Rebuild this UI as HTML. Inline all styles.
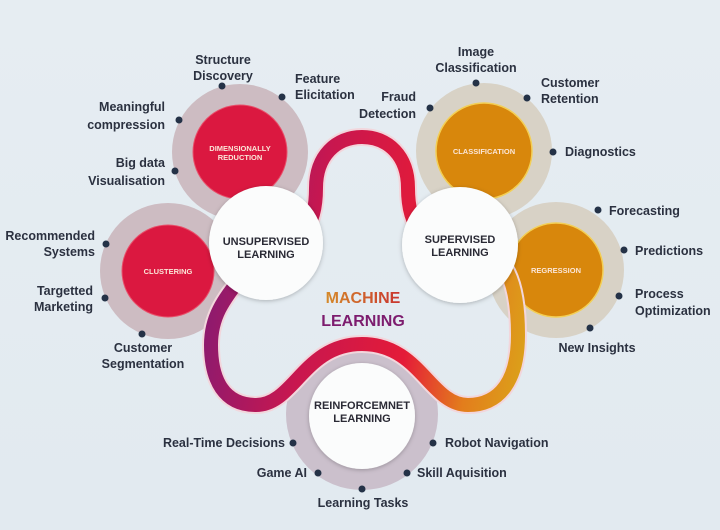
<!DOCTYPE html>
<html><head><meta charset="utf-8"><style>
html,body{margin:0;padding:0;background:#e4ecf1;}
svg{display:block;}
.l{font-family:"Liberation Sans",sans-serif;font-size:12.5px;font-weight:bold;fill:#2b3140;}
.w{font-family:"Liberation Sans",sans-serif;font-size:11px;font-weight:bold;fill:#2a2a35;text-anchor:middle;}
.i{font-family:"Liberation Sans",sans-serif;font-size:7.5px;font-weight:bold;fill:#fbe6d8;text-anchor:middle;}
</style></head><body>
<svg width="720" height="530" viewBox="0 0 720 530" xmlns="http://www.w3.org/2000/svg">
<defs>
<linearGradient id="bg" x1="0" y1="0" x2="0" y2="1"><stop offset="0" stop-color="#e6edf2"/><stop offset="1" stop-color="#e2eaf0"/></linearGradient>
<linearGradient id="tube" gradientUnits="userSpaceOnUse" x1="205" y1="330" x2="525" y2="380">
<stop offset="0" stop-color="#8e1a6e"/><stop offset="0.3" stop-color="#c8174f"/><stop offset="0.62" stop-color="#e41b38"/><stop offset="0.82" stop-color="#e37d1c"/><stop offset="1" stop-color="#dba21a"/></linearGradient>
<linearGradient id="mach" x1="0" y1="0" x2="1" y2="0"><stop offset="0" stop-color="#d58a2a"/><stop offset="1" stop-color="#c9342f"/></linearGradient>
<filter id="sh" x="-20%" y="-20%" width="140%" height="140%"><feDropShadow dx="0" dy="1" stdDeviation="2" flood-color="#000" flood-opacity="0.25"/></filter>
</defs>
<rect width="720" height="530" fill="url(#bg)"/>
<circle cx="240" cy="152" r="68" fill="#cdbcc2"/>
<circle cx="168" cy="271" r="68" fill="#cdbcc2"/>
<circle cx="484" cy="151" r="68" fill="#d8d2c6"/>
<circle cx="556" cy="270" r="68" fill="#d8d2c6"/>
<circle cx="362" cy="414" r="76" fill="#cbc0cc"/>
<circle cx="240" cy="152" r="47" fill="#db1840" stroke="#e8506a" stroke-width="1"/>
<circle cx="168" cy="271" r="46" fill="#db1840" stroke="#e8506a" stroke-width="1"/>
<circle cx="484" cy="151" r="48" fill="#d8870c" stroke="#f3cf55" stroke-width="1.5"/>
<circle cx="556" cy="270" r="47" fill="#d8870c" stroke="#f3cf55" stroke-width="1.5"/>
<path id="p" d="M266,243 C302,243 316,228 316,188 C316,156 336,137 362,137 C388,137 408,156 408,188 C408,228 424,245 460,245 C510,245 518,290 518,335 C518,380 500,405 468,405 C430,405 420,344 362,344 C304,344 294,405 256,405 C224,405 211,380 211,345 C211,305 235,290 266,243 Z" fill="none" stroke="#f2d6dc" stroke-width="18"/>
<path d="M266,243 C302,243 316,228 316,188 C316,156 336,137 362,137 C388,137 408,156 408,188 C408,228 424,245 460,245 C510,245 518,290 518,335 C518,380 500,405 468,405 C430,405 420,344 362,344 C304,344 294,405 256,405 C224,405 211,380 211,345 C211,305 235,290 266,243 Z" fill="none" stroke="url(#tube)" stroke-width="14"/>
<circle cx="266" cy="243" r="57" fill="#fbfcfc" filter="url(#sh)"/>
<circle cx="460" cy="245" r="58" fill="#fbfcfc" filter="url(#sh)"/>
<circle cx="362" cy="416" r="53" fill="#fbfcfc" filter="url(#sh)"/>
<text class="w" x="266" y="245">UNSUPERVISED</text><text class="w" x="266" y="258">LEARNING</text>
<text class="w" x="460" y="243">SUPERVISED</text><text class="w" x="460" y="256">LEARNING</text>
<text class="w" x="362" y="409">REINFORCEMNET</text><text class="w" x="362" y="422">LEARNING</text>
<text class="i" x="240" y="151">DIMENSIONALLY</text><text class="i" x="240" y="160">REDUCTION</text>
<text class="i" x="168" y="274">CLUSTERING</text>
<text class="i" x="484" y="154" fill="#fbe7b0">CLASSIFICATION</text>
<text class="i" x="556" y="273" fill="#fbe7b0">REGRESSION</text>
<text x="363" y="303" text-anchor="middle" font-family="Liberation Sans,sans-serif" font-weight="bold" font-size="16" fill="url(#mach)">MACHINE</text>
<text x="363" y="326" text-anchor="middle" font-family="Liberation Sans,sans-serif" font-weight="bold" font-size="16" fill="#7d1c6e">LEARNING</text>
<g fill="#243247">
<circle cx="222" cy="86" r="3.5"/><circle cx="282" cy="97" r="3.5"/><circle cx="179" cy="120" r="3.5"/><circle cx="175" cy="171" r="3.5"/>
<circle cx="106" cy="244" r="3.5"/><circle cx="105" cy="298" r="3.5"/><circle cx="142" cy="334" r="3.5"/>
<circle cx="430" cy="108" r="3.5"/><circle cx="476" cy="83" r="3.5"/><circle cx="527" cy="98" r="3.5"/><circle cx="553" cy="152" r="3.5"/>
<circle cx="598" cy="210" r="3.5"/><circle cx="624" cy="250" r="3.5"/><circle cx="619" cy="296" r="3.5"/><circle cx="590" cy="328" r="3.5"/>
<circle cx="293" cy="443" r="3.5"/><circle cx="318" cy="473" r="3.5"/><circle cx="362" cy="489" r="3.5"/><circle cx="407" cy="473" r="3.5"/><circle cx="433" cy="443" r="3.5"/>
</g>
<g class="l">
<text x="223" y="64" text-anchor="middle">Structure</text><text x="223" y="80" text-anchor="middle">Discovery</text>
<text x="295" y="83">Feature</text><text x="295" y="99">Elicitation</text>
<text x="165" y="111" text-anchor="end">Meaningful</text><text x="165" y="129" text-anchor="end">compression</text>
<text x="165" y="167" text-anchor="end">Big data</text><text x="165" y="185" text-anchor="end">Visualisation</text>
<text x="95" y="240" text-anchor="end">Recommended</text><text x="95" y="256" text-anchor="end">Systems</text>
<text x="93" y="295" text-anchor="end">Targetted</text><text x="93" y="311" text-anchor="end">Marketing</text>
<text x="143" y="352" text-anchor="middle">Customer</text><text x="143" y="368" text-anchor="middle">Segmentation</text>
<text x="416" y="101" text-anchor="end">Fraud</text><text x="416" y="118" text-anchor="end">Detection</text>
<text x="476" y="56" text-anchor="middle">Image</text><text x="476" y="72" text-anchor="middle">Classification</text>
<text x="541" y="87">Customer</text><text x="541" y="103">Retention</text>
<text x="565" y="156">Diagnostics</text>
<text x="609" y="215">Forecasting</text>
<text x="635" y="255">Predictions</text>
<text x="635" y="298">Process</text><text x="635" y="315">Optimization</text>
<text x="597" y="352" text-anchor="middle">New Insights</text>
<text x="285" y="447" text-anchor="end">Real-Time Decisions</text>
<text x="307" y="477" text-anchor="end">Game AI</text>
<text x="363" y="507" text-anchor="middle">Learning Tasks</text>
<text x="417" y="477">Skill Aquisition</text>
<text x="445" y="447">Robot Navigation</text>
</g>
</svg>
</body></html>
